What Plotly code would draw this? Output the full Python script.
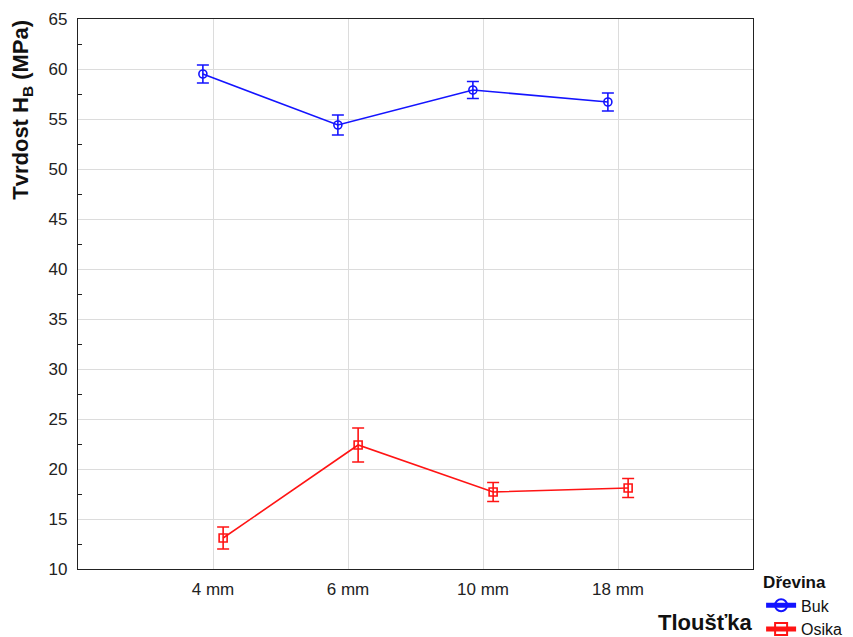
import plotly.graph_objects as go

categories = ["4 mm", "6 mm", "10 mm", "18 mm"]
buk_mean = [59.5, 54.4, 57.9, 56.7]
buk_err = [0.9, 1.0, 0.85, 0.9]
osika_mean = [13.1, 22.4, 17.7, 18.1]
osika_err = [1.1, 1.7, 0.95, 0.95]
y_ticks = [10, 15, 20, 25, 30, 35, 40, 45, 50, 55, 60, 65]

offset = 0.075
xpos = list(range(len(categories)))
buk_x = [i - offset for i in xpos]
osika_x = [i + offset for i in xpos]

font_family = "Liberation Sans, Arial, sans-serif"

fig = go.Figure()
fig.add_trace(go.Scatter(
    x=buk_x, y=buk_mean, name="Buk", mode="lines+markers",
    line=dict(color="#1414ff", width=1.6),
    marker=dict(symbol="circle-open", size=8, color="#1414ff", line=dict(width=1.6)),
    error_y=dict(type="data", array=buk_err, visible=True, color="#1414ff", thickness=1.6, width=6),
))
fig.add_trace(go.Scatter(
    x=osika_x, y=osika_mean, name="Osika", mode="lines+markers",
    line=dict(color="#ff1414", width=1.6),
    marker=dict(symbol="square-open", size=8, color="#ff1414", line=dict(width=1.6)),
    error_y=dict(type="data", array=osika_err, visible=True, color="#ff1414", thickness=1.6, width=6),
))

fig.update_layout(
    width=845, height=629,
    margin=dict(l=70, r=100, t=11, b=68, autoexpand=False),
    paper_bgcolor="white", plot_bgcolor="white",
    font=dict(family=font_family, size=17, color="#222222"),
    showlegend=True,
    legend=dict(
        title=dict(text="<b>Dřevina</b>", font=dict(size=17, color="#111111")),
        x=1.012, xanchor="left", y=0.005, yanchor="top",
        font=dict(size=16, color="#111111"),
        bgcolor="rgba(0,0,0,0)",
        tracegroupgap=0, itemsizing="constant",
    ),
    xaxis=dict(
        range=[-1, 4], tickmode="array", tickvals=xpos, ticktext=categories,
        showgrid=True, gridcolor="#dcdcdc", gridwidth=1,
        showline=True, linecolor="#222222", linewidth=1.2, mirror=True,
        ticks="", ticklabelstandoff=4, zeroline=False,
        tickfont=dict(size=17, color="#222222"),
    ),
    yaxis=dict(
        range=[10, 65], tickmode="array", tickvals=y_ticks,
        showgrid=True, gridcolor="#dcdcdc", gridwidth=1,
        showline=True, linecolor="#222222", linewidth=1.2, mirror=True,
        ticks="", ticklabelstandoff=6, zeroline=False,
        tickfont=dict(size=17, color="#222222"),
        minor=dict(tickmode="linear", tick0=12.5, dtick=5, ticks="inside", ticklen=4,
                   tickcolor="#222222", showgrid=False),
    ),
    annotations=[
        dict(text="<b>Tloušťka</b>", x=1.002, xref="paper", xanchor="right",
             y=-0.097, yref="paper", yanchor="middle", showarrow=False,
             font=dict(size=22, color="#111111")),
        dict(text="<b>Tvrdost H<sub>B</sub> (MPa)</b>", textangle=-90,
             x=-0.083, xref="paper", xanchor="center",
             y=0.835, yref="paper", yanchor="middle", showarrow=False,
             font=dict(size=22, color="#111111")),
    ],
)

fig.write_html("out.html")
